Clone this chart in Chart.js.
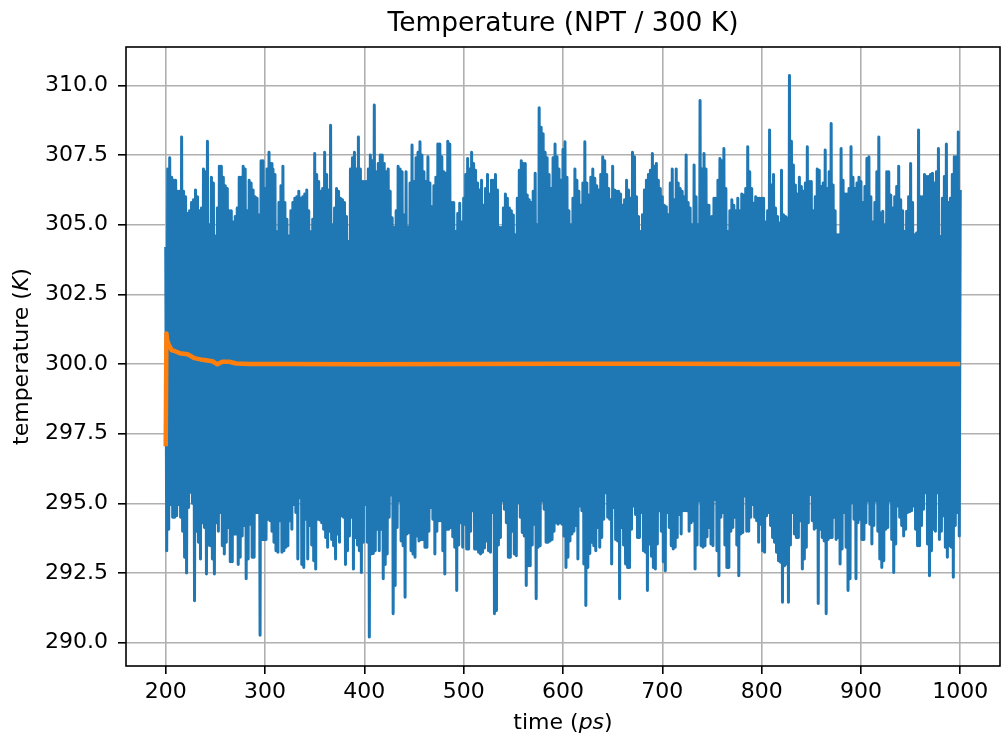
<!DOCTYPE html>
<html>
<head>
<meta charset="utf-8">
<script src="https://cdn.jsdelivr.net/npm/chart.js@4.4.1/dist/chart.umd.min.js"></script>
<style>
html,body{margin:0;padding:0;background:#fff;}
#wrap{width:1001px;height:742px;position:relative;}
</style>
</head>
<body>
<div id="wrap"><canvas id="c"></canvas></div>
<script>
// ---- data ----
// sampling grid of the temperature trace (ps)
const sampleStartPs = 200;
const sampleStepPs = 1;
// local maxima of the trace (every other sample, t = 200, 202, ... 1000)
const peaks = [
304.2,307.0,307.4,306.7,306.6,306.6,306.2,306.2,308.15,306.2,
306.0,305.4,305.5,305.8,305.9,306.25,306.0,305.5,305.6,307.0,
306.9,308.0,305.0,306.7,306.5,304.6,305.6,307.1,307.1,306.7,
306.4,306.3,305.5,305.5,305.1,305.3,305.6,306.7,306.7,307.1,
307.0,305.5,306.6,306.5,306.25,306.0,305.95,305.35,307.3,307.3,
306.3,307.0,307.6,307.2,307.0,306.8,304.75,305.8,306.4,307.1,
305.8,305.2,304.6,305.5,305.8,305.95,306.0,306.2,305.95,306.0,
306.1,306.25,305.5,304.75,305.2,307.56,306.8,306.55,306.2,306.3,
307.6,306.8,306.25,308.57,305.0,305.6,306.3,306.2,305.95,305.9,
305.8,305.3,304.4,307.0,307.4,307.6,307.0,308.15,307.0,306.55,
306.55,306.55,307.0,307.5,307.3,309.3,306.9,307.2,307.5,307.5,
307.2,306.9,307.0,306.2,305.25,304.9,305.5,307.1,307.0,306.9,
305.35,306.9,304.9,306.5,307.86,306.55,307.4,307.6,307.98,307.5,
306.9,306.55,307.44,306.5,305.65,306.4,306.7,307.9,307.9,307.44,
306.9,306.85,308.0,307.9,305.8,305.8,304.76,305.4,305.77,305.1,
305.95,306.8,307.38,307.0,307.6,307.2,306.96,306.5,306.25,306.6,
305.7,306.3,306.8,306.1,306.6,306.6,306.8,306.25,304.9,304.9,
305.6,306.1,305.95,305.6,305.5,305.35,304.64,305.95,306.96,307.3,
307.2,307.2,306.07,305.9,305.8,306.2,306.85,305.0,309.2,308.5,
308.27,307.6,307.4,306.8,306.3,307.4,307.9,307.44,307.0,306.6,
307.7,307.98,306.7,305.5,305.0,305.95,307.0,306.6,306.2,305.7,
306.5,307.98,306.5,306.07,306.7,307.0,306.67,306.4,306.25,306.8,
307.44,307.3,306.8,306.3,305.9,307.1,306.25,306.2,306.2,306.1,
305.7,305.9,306.6,306.25,305.95,307.6,307.44,306.0,305.3,304.76,
305.36,306.25,306.6,306.8,306.96,307.56,307.1,307.2,306.6,306.3,
306.0,305.7,305.65,305.36,306.5,307.0,305.9,307.0,306.5,306.3,
306.2,306.0,307.5,305.8,305.6,305.0,307.14,306.0,305.0,309.46,
307.0,307.56,307.0,305.7,305.0,305.3,305.95,305.95,306.6,307.38,
307.3,307.74,306.3,304.76,305.5,305.9,305.7,305.5,305.95,305.5,
306.1,306.07,306.3,307.8,306.9,306.3,305.77,306.0,305.95,305.95,
305.95,305.95,305.1,305.5,308.4,306.43,306.8,305.6,305.3,305.06,
306.96,305.36,305.3,305.24,310.36,308.0,307.14,306.43,306.1,306.7,
306.37,306.2,306.5,307.8,306.55,306.55,305.5,306.0,307.0,306.96,
306.37,306.5,307.68,306.3,306.9,308.63,306.43,305.5,304.64,304.64,
307.74,306.6,306.1,306.1,306.3,307.8,306.7,306.3,306.5,306.7,
306.55,305.8,306.37,307.38,307.44,306.0,305.1,305.8,306.9,308.15,
305.42,305.48,305.0,306.9,306.9,306.07,305.6,306.0,306.37,307.1,
305.9,305.5,304.76,305.48,306.0,307.2,305.8,304.64,304.7,308.4,
306.0,306.0,306.8,306.73,306.73,306.8,306.85,306.5,306.9,307.74,
304.58,305.95,306.73,307.9,305.8,305.95,306.8,307.44,307.44,308.33,
306.25
];
// local minima of the trace (the samples in between, t = 201, 203, ... 999)
const troughs = [
293.3,294.07,294.96,294.5,294.5,294.55,294.96,294.5,294.0,293.06,
292.5,294.85,295.4,295.0,291.5,294.0,293.6,293.0,294.3,294.13,
292.46,293.5,293.48,293.0,292.46,294.3,294.0,294.67,293.48,293.18,
293.6,294.13,292.9,292.9,293.9,293.9,292.8,293.06,293.83,294.2,
292.29,293.0,294.25,293.06,293.06,294.67,294.67,290.26,293.7,293.7,
293.7,294.43,294.37,294.0,293.6,293.3,293.24,294.37,293.24,293.3,
293.42,293.48,294.37,294.07,294.96,294.67,293.0,295.2,292.8,292.7,
294.43,293.0,294.2,293.5,292.94,292.64,294.43,294.4,294.3,294.07,
293.77,293.42,294.0,293.7,293.48,293.0,293.9,293.6,294.55,294.5,
292.8,293.3,293.83,294.5,292.64,293.77,293.5,293.3,292.52,293.6,
294.96,293.6,290.2,293.18,293.2,293.3,294.07,293.3,294.07,292.29,
292.8,293.18,294.5,295.3,291.04,292.05,294.13,295.08,293.65,293.48,
291.63,293.9,293.95,293.3,293.18,293.06,293.83,293.65,293.7,293.7,
293.42,293.42,294.0,294.85,294.43,293.18,294.0,294.37,294.37,293.3,
292.46,294.07,294.07,294.13,293.8,293.42,291.87,293.5,294.3,293.42,
294.25,293.36,293.36,294.0,294.73,293.36,293.36,293.24,293.18,293.24,
293.4,293.65,293.3,293.24,294.67,291.04,291.15,293.5,293.77,295.08,
294.79,294.3,293.06,293.06,294.0,293.18,293.12,295.02,294.5,293.95,
293.83,292.05,292.76,292.76,293.5,294.25,291.57,293.42,293.48,295.08,
294.79,293.6,293.6,293.65,293.7,294.0,294.3,294.25,294.3,294.25,
293.83,292.7,293.06,293.65,293.9,294.0,294.2,293.0,294.9,294.73,
292.82,291.33,292.7,293.2,293.6,293.48,293.3,294.13,293.42,293.77,
294.43,295.38,294.5,294.43,292.82,294.85,293.7,293.65,291.57,294.13,
293.5,292.82,292.7,292.7,294.07,294.9,294.6,293.77,293.77,294.67,
293.3,293.24,291.87,293.54,293.1,292.7,292.64,293.54,294.73,294.0,
292.9,292.58,294.67,294.13,293.48,293.36,293.42,293.77,294.6,293.9,
294.73,294.73,294.73,294.0,294.3,294.37,292.64,293.5,295.08,293.48,
293.42,293.48,293.8,294.13,293.54,293.48,295.14,293.3,292.4,294.5,
294.67,293.5,292.7,292.7,294.0,294.13,294.5,293.5,292.4,293.9,
293.95,295.26,294.0,294.0,294.5,294.96,294.5,294.37,293.6,294.25,
293.3,293.24,294.55,294.67,294.2,293.77,293.6,293.24,292.94,292.88,
291.45,292.76,292.82,291.45,293.5,294.67,293.9,293.77,293.77,294.37,
292.64,293.0,293.42,294.3,295.32,294.37,294.07,294.13,291.4,294.07,
293.77,293.65,291.04,293.7,293.77,293.77,294.5,293.7,293.77,292.82,
293.36,294.67,293.42,291.87,292.29,295.02,294.43,292.29,294.3,294.43,
293.7,293.7,294.3,295.08,294.25,293.54,294.2,295.08,294.0,293.0,
292.7,292.94,294.07,294.13,295.08,293.7,292.52,293.54,294.9,294.5,
294.2,293.83,294.07,294.67,294.7,294.73,294.9,294.07,293.48,293.48,
294.2,294.79,295.38,293.54,292.4,293.3,294.07,294.0,295.38,293.7,
294.0,294.55,293.42,293.06,293.48,293.42,292.35,294.2,294.67,293.83
];
// running mean of the temperature (orange)
const meanTimes = [200,200.7,201.5,203,206,210,214,222,229,237,247,252,257,264,271,285,320,400,500,600,700,800,900,1000];
const meanTemps = [297.05,301.1,300.85,300.7,300.5,300.45,300.39,300.35,300.21,300.15,300.1,299.99,300.08,300.08,300.02,300.0,300.0,299.99,300.0,300.01,300.01,300.0,300.0,300.0];
// axis ticks
const xTicks = [200,300,400,500,600,700,800,900,1000];
const yTicks = [290,292.5,295,297.5,300,302.5,305,307.5,310];
const titleText = 'Temperature (NPT / 300 K)';
const xTitleParts = [['time (', false], ['ps', true], [')', false]];
const yTitleParts = [['temperature (', false], ['K', true], [')', false]];

// ---- build datasets ----
const tempSeries = [];
for (let i = 0; i < peaks.length; i++) {
  tempSeries.push({x: sampleStartPs + 2 * i * sampleStepPs, y: peaks[i]});
  if (i < troughs.length) tempSeries.push({x: sampleStartPs + (2 * i + 1) * sampleStepPs, y: troughs[i]});
}
const meanSeries = meanTimes.map((t, i) => ({x: t, y: meanTemps[i]}));

const FONT = '"DejaVu Sans", "Liberation Sans", sans-serif';
const TICK_SIZE = 22;

function drawParts(ctx, parts, size) {
  const widths = parts.map(([t, it]) => {
    ctx.font = (it ? 'italic ' : '') + size + 'px ' + FONT;
    return ctx.measureText(t).width;
  });
  const total = widths.reduce((a, b) => a + b, 0);
  let x = -total / 2;
  parts.forEach(([t, it], i) => {
    ctx.font = (it ? 'italic ' : '') + size + 'px ' + FONT;
    ctx.fillText(t, x, 0);
    x += widths[i];
  });
}

const framePlugin = {
  id: 'frameAndTitles',
  beforeDraw(chart) {
    const ctx = chart.ctx;
    ctx.save();
    ctx.fillStyle = '#ffffff';
    ctx.fillRect(0, 0, chart.width, chart.height);
    ctx.restore();
  },
  afterDraw(chart) {
    const ctx = chart.ctx;
    const a = chart.chartArea;
    ctx.save();
    ctx.strokeStyle = '#000';
    ctx.lineWidth = 1.6;
    ctx.strokeRect(a.left, a.top, a.right - a.left, a.bottom - a.top);
    ctx.fillStyle = '#000';
    ctx.textBaseline = 'alphabetic';
    ctx.textAlign = 'left';
    // x axis title
    ctx.save();
    ctx.translate((a.left + a.right) / 2, 729);
    drawParts(ctx, xTitleParts, TICK_SIZE);
    ctx.restore();
    // y axis title
    ctx.save();
    ctx.translate(28, (a.top + a.bottom) / 2);
    ctx.rotate(-Math.PI / 2);
    drawParts(ctx, yTitleParts, TICK_SIZE);
    ctx.restore();
    ctx.restore();
  }
};

new Chart(document.getElementById('c'), {
  type: 'line',
  data: {
    datasets: [
      {
        label: 'temperature',
        data: tempSeries,
        borderColor: '#1f77b4',
        backgroundColor: '#1f77b4',
        borderWidth: 3,
        borderJoinStyle: 'round',
        pointRadius: 0,
        tension: 0,
        fill: false,
        order: 2
      },
      {
        label: 'running mean',
        data: meanSeries,
        borderColor: '#ff7f0e',
        backgroundColor: '#ff7f0e',
        borderWidth: 4.5,
        borderJoinStyle: 'round',
        pointRadius: 0,
        tension: 0,
        fill: false,
        order: 1
      }
    ]
  },
  options: {
    responsive: true,
    maintainAspectRatio: false,
    devicePixelRatio: 1,
    animation: false,
    events: [],
    layout: {padding: {left: 0, right: 1, top: 0, bottom: 0}},
    plugins: {
      legend: {display: false},
      tooltip: {enabled: false},
      title: {
        display: true,
        fullSize: false,
        text: titleText,
        color: '#000',
        font: {family: FONT, size: 26.5, weight: 'normal', lineHeight: 1.2},
        padding: {top: 8.1, bottom: 7.1}
      }
    },
    scales: {
      x: {
        type: 'linear',
        min: 160,
        max: 1040,
        afterBuildTicks: (s) => { s.ticks = xTicks.map(v => ({value: v})); },
        afterFit: (s) => { s.height = 76; },
        ticks: {
          color: '#000',
          font: {family: FONT, size: TICK_SIZE},
          padding: 5,
          maxRotation: 0,
          autoSkip: false,
          callback: (v) => String(v)
        },
        grid: {color: '#b0b0b0', lineWidth: 1.6, tickColor: '#000', tickLength: 8, tickWidth: 1.6},
        border: {display: false}
      },
      y: {
        type: 'linear',
        min: 289.16,
        max: 311.38,
        afterBuildTicks: (s) => { s.ticks = yTicks.map(v => ({value: v})); },
        afterFit: (s) => { s.width = 126; },
        ticks: {
          color: '#000',
          font: {family: FONT, size: TICK_SIZE},
          padding: 10,
          autoSkip: false,
          callback: (v) => Number(v).toFixed(1)
        },
        grid: {color: '#b0b0b0', lineWidth: 1.6, tickColor: '#000', tickLength: 8, tickWidth: 1.6},
        border: {display: false}
      }
    }
  },
  plugins: [framePlugin]
});
</script>
</body>
</html>
